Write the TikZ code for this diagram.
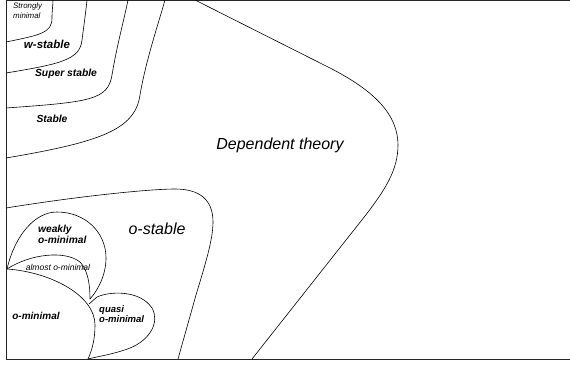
\documentclass[tikz,border=0pt]{standalone}
\usepackage{fontspec}
\setmainfont{Liberation Sans}
\tikzset{
  region/.style={draw=black, line width=0.6pt},
  frame/.style={draw=black!85, line width=1pt},
  lbl/.style={inner sep=0pt, align=left},
  fsz/.style={font=\fontsize{#1}{#1}\selectfont\itshape},
  fszb/.style={font=\fontsize{#1}{#1}\selectfont\bfseries\itshape},
}
\begin{document}
\begin{tikzpicture}[x=1pt,y=-1pt]
\useasboundingbox (0,0) rectangle (570,365);
% frame
\draw[frame] (570,0.5) -- (6,0.5) -- (6,359) -- (570,359);
% upper nested regions
\draw[region] (6,42) .. controls (40,35) and (52,33) .. (52,18) .. controls (52,10) and (53,5) .. (53,0);
\draw[region] (6,73) .. controls (60,64) and (80,60) .. (82,40) .. controls (84,25) and (86,10) .. (87,0);
\draw[region] (6,108) .. controls (90,102) and (108,100) .. (112,75) .. controls (117,45) and (124,20) .. (128,0);
\draw[region] (6,158) .. controls (100,142) and (135,130) .. (140,95) .. controls (146,60) and (158,25) .. (165,0);
% dependent theory
\draw[region] (195,0) -- (330,68) .. controls (375,91) and (398,115) .. (398,145) .. controls (398,170) and (385,190) .. (365,216) -- (252,359);
% o-stable
\draw[region] (6,208) .. controls (80,196) and (150,189) .. (175,189) .. controls (200,189) and (213,200) .. (213,222) .. controls (213,240) and (205,265) .. (196,295) -- (178,359);
% weakly o-minimal
\draw[region] (7,269) .. controls (15,235) and (35,212) .. (57,212) .. controls (85,212) and (106,232) .. (106,258) .. controls (106,275) and (98,290) .. (90,299);
% almost o-minimal
\draw[region] (7,269) .. controls (30,254) and (65,250) .. (80,262) .. controls (88,270) and (90,285) .. (90,299);
% o-minimal
\draw[region] (7,269) .. controls (50,272) and (95,295) .. (95,325) .. controls (95,340) and (92,350) .. (88,359);
% quasi o-minimal
\draw[region] (89,304) -- (97,297) .. controls (110,291) and (140,290) .. (152,308) .. controls (160,322) and (150,340) .. (130,348) .. controls (115,354) and (95,357) .. (88,359);
% labels
\node[lbl, font=\fontsize{7.9}{9.5}\selectfont\itshape, anchor=west] (sm) at (13,10.5) {Strongly\\minimal};
\node[lbl, fszb=11.5] (ws) at (47,44) {w-stable};
\node[lbl, fszb=10.3] (ss) at (66,74) {Super stable};
\node[lbl, fszb=10.3] (st) at (52,119) {Stable};
\node[lbl, fsz=16] (dt) at (280,145) {Dependent theory};
\node[lbl, fsz=16] (os) at (157,229) {o-stable};
\node[lbl, fszb=10.2, anchor=west] (wo) at (38,234) {weakly\\[1pt]o-minimal};
\node[lbl, fsz=8.5] (ao) at (58,267) {almost o-minimal};
\node[lbl, fszb=10] (om) at (36,316) {o-minimal};
\node[lbl, fszb=9.5, anchor=west] (qo) at (99,314) {quasi\\[1pt]o-minimal};
\end{tikzpicture}
\end{document}
